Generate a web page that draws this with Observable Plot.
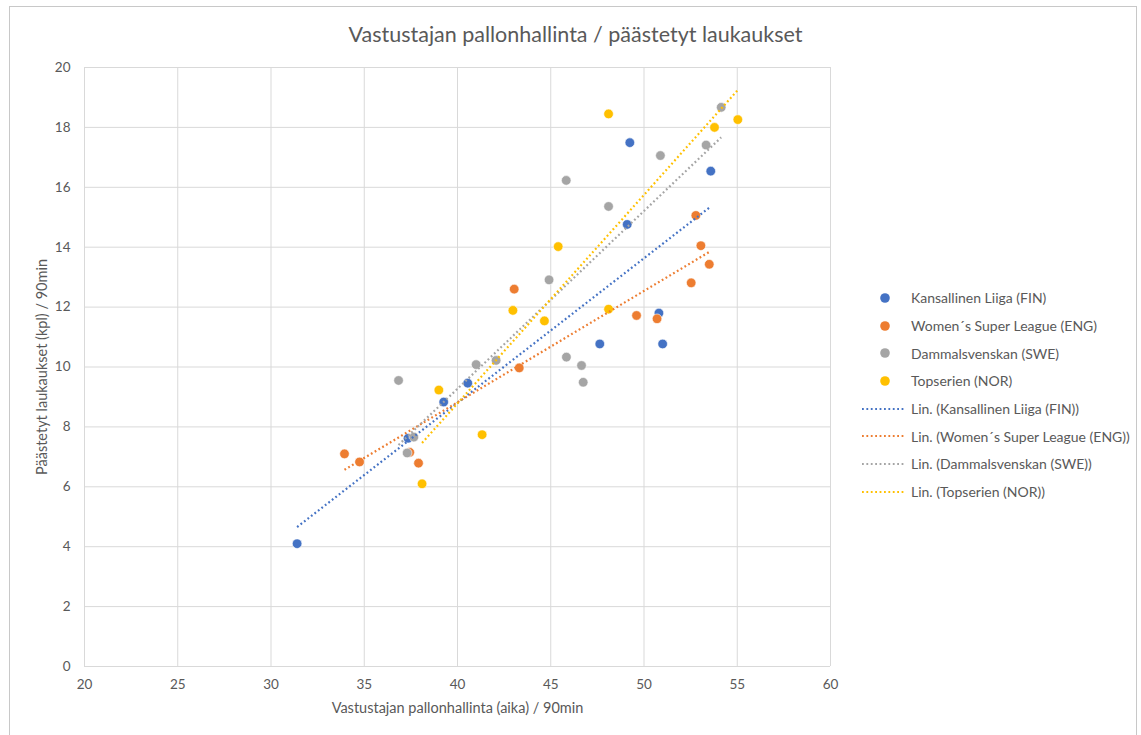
<!DOCTYPE html>
<html>
<head>
<meta charset="utf-8">
<script src="https://cdn.jsdelivr.net/npm/d3@7"></script>
<script src="https://cdn.jsdelivr.net/npm/@observablehq/plot@0.6"></script>
<style>
  html, body { margin: 0; padding: 0; background: #fff; }
  #wrap { position: relative; width: 1141px; height: 735px; overflow: hidden; font-family: Lato, "Open Sans", sans-serif; color: #595959; }
  #frame { position: absolute; left: 9px; top: 6px; width: 1128px; height: 740px; border: 1px solid #c8c8c8; box-sizing: border-box; }
  #title { position: absolute; left: 0; top: 21px; width: 1151px; text-align: center; font-size: 21.5px; color: #595959; }
  #chart { position: absolute; left: 0; top: 0; }
  #legend { position: absolute; left: 860px; top: 284px; font-size: 14px; color: #595959; }
  .item { height: 27.7px; display: flex; align-items: center; white-space: nowrap; }
  .item svg { margin-right: 5px; flex: none; }
</style>
</head>
<body>
<div id="wrap">
  <div id="frame"></div>
  <div id="chart"></div>
  <div id="title">Vastustajan pallonhallinta / päästetyt laukaukset</div>
  <div id="legend"></div>
</div>
<script>
const leagues = ["Kansallinen Liiga (FIN)", "Women´s Super League (ENG)", "Dammalsvenskan (SWE)", "Topserien (NOR)"];
const colors = ["#4472C4", "#ED7D31", "#A5A5A5", "#FFC000"];

const finX = [31.4, 37.35, 39.26, 40.55, 47.63, 49.1, 49.24, 50.8, 51.0, 53.58];
const finY = [4.1, 7.62, 8.83, 9.46, 10.77, 14.76, 17.49, 11.8, 10.77, 16.54];

const engX = [33.94, 34.75, 37.44, 37.91, 43.31, 43.04, 49.6, 50.7, 52.78, 53.05, 53.5, 52.53];
const engY = [7.10, 6.83, 7.15, 6.79, 9.97, 12.6, 11.72, 11.61, 15.06, 14.05, 13.43, 12.81];

const sweX = [36.84, 37.66, 37.3, 41.0, 42.07, 44.91, 45.83, 45.84, 46.65, 46.74, 48.1, 50.88, 53.33, 54.14];
const sweY = [9.55, 7.66, 7.13, 10.08, 10.22, 12.91, 16.23, 10.33, 10.05, 9.49, 15.36, 17.06, 17.41, 18.67];

const norX = [39.0, 41.32, 38.1, 42.97, 44.66, 45.4, 48.1, 48.1, 53.78, 55.03];
const norY = [9.23, 7.74, 6.10, 11.89, 11.54, 14.02, 18.45, 11.93, 18.0, 18.26];

const xTicks = [20, 25, 30, 35, 40, 45, 50, 55, 60];
const yTicks = [0, 2, 4, 6, 8, 10, 12, 14, 16, 18, 20];

const series = [[finX, finY], [engX, engY], [sweX, sweY], [norX, norY]];
const data = [];
series.forEach(([xs, ys], i) => xs.forEach((x, j) => data.push({league: leagues[i], x, y: ys[j]})));

// least-squares trend line endpoints (Excel "Lin." trendline), over each series' x range
const trend = [];
series.forEach(([xs, ys], i) => {
  const mx = d3.mean(xs), my = d3.mean(ys);
  const b = d3.sum(xs, (x, j) => (x - mx) * (ys[j] - my)) / d3.sum(xs, x => (x - mx) ** 2);
  const a = my - b * mx;
  const [x0, x1] = d3.extent(xs);
  trend.push({league: leagues[i], x: x0, y: a + b * x0});
  trend.push({league: leagues[i], x: x1, y: a + b * x1});
});

const chart = Plot.plot({
  width: 1141,
  height: 735,
  marginLeft: 84,
  marginRight: 311,
  marginTop: 67,
  marginBottom: 69,
  style: {fontFamily: "Lato, 'Open Sans', sans-serif", fontSize: "13.5px", color: "#595959", background: "transparent"},
  x: {domain: [20, 60], ticks: xTicks, tickSize: 0, tickPadding: 13, label: "Vastustajan pallonhallinta (aika) / 90min", labelAnchor: "center", labelOffset: 46, labelArrow: "none"},
  y: {domain: [0, 20], ticks: yTicks, tickSize: 0, tickPadding: 14, label: "Päästetyt laukaukset (kpl) / 90min", labelAnchor: "center", labelOffset: 48, labelArrow: "none"},
  color: {domain: leagues, range: colors},
  marks: [
    Plot.gridX(xTicks, {stroke: "#d9d9d9", strokeOpacity: 1, strokeWidth: 1}),
    Plot.gridY(yTicks, {stroke: "#d9d9d9", strokeOpacity: 1, strokeWidth: 1}),
    Plot.dot(data, {x: "x", y: "y", fill: "league", r: 4.8, stroke: "white", strokeWidth: 0.6}),
    Plot.line(trend, {x: "x", y: "y", stroke: "league", z: "league", strokeWidth: 2.2, strokeDasharray: "1.8 2.6", strokeLinecap: "butt"})
  ]
});
chart.querySelectorAll("g[aria-label='x-axis label'] text, g[aria-label='y-axis label'] text").forEach(t => t.style.fontSize = "14.5px");
document.getElementById("chart").appendChild(chart);

const legend = document.getElementById("legend");
leagues.forEach((l, i) => {
  const d = document.createElement("div");
  d.className = "item";
  d.innerHTML = `<svg width="46" height="12"><circle cx="25" cy="6" r="4.8" fill="${colors[i]}"/></svg><span>${l}</span>`;
  legend.appendChild(d);
});
leagues.forEach((l, i) => {
  const d = document.createElement("div");
  d.className = "item";
  d.innerHTML = `<svg width="46" height="12"><line x1="2" x2="44" y1="6" y2="6" stroke="${colors[i]}" stroke-width="2" stroke-dasharray="1.8 2.6"/></svg><span>Lin. (${l})</span>`;
  legend.appendChild(d);
});
</script>
</body>
</html>
